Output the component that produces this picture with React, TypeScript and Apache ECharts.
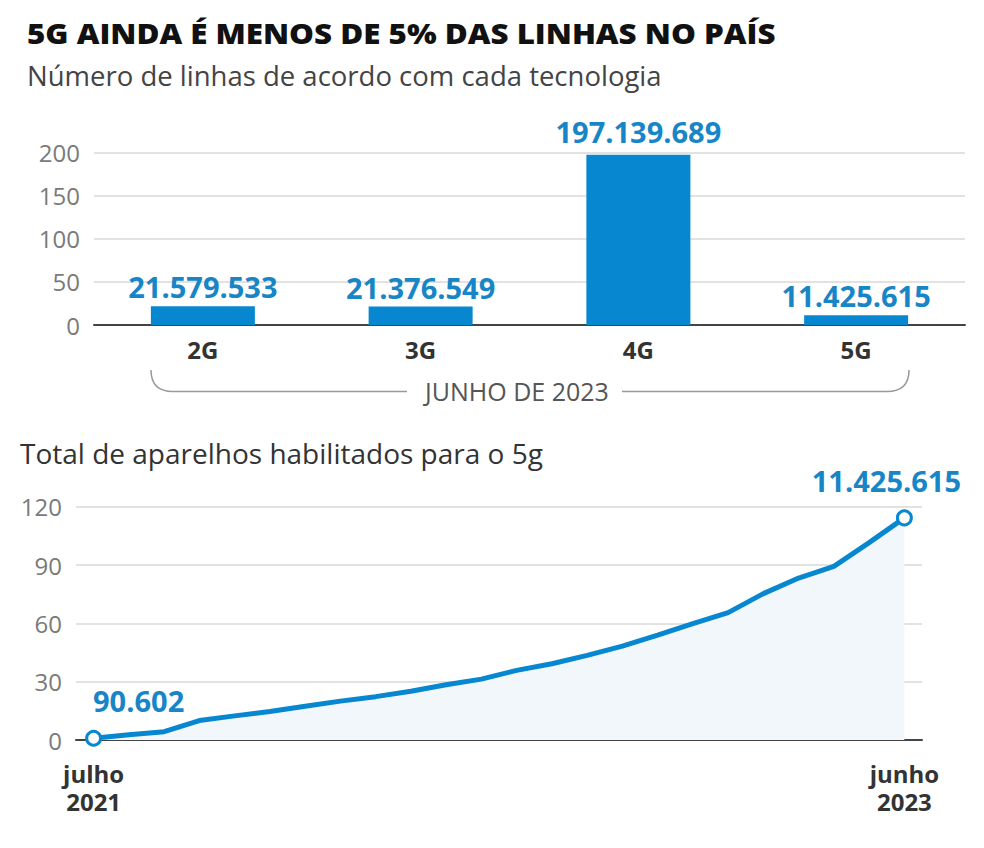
import React, { useEffect, useRef } from "react";
import * as echarts from "echarts";

// ---- Data ----
const titleText = "5G AINDA É MENOS DE 5% DAS LINHAS NO PAÍS";
const subtitleText = "Número de linhas de acordo com cada tecnologia";
const lineTitleText = "Total de aparelhos habilitados para o 5g";
const periodText = "JUNHO DE 2023";

const techCategories = ["2G", "3G", "4G", "5G"];
const linesByTech = [21579533, 21376549, 197139689, 11425615]; // number of lines
const barTicks = [0, 50, 100, 150, 200]; // millions

const months = [
  "jul 2021", "ago 2021", "set 2021", "out 2021", "nov 2021", "dez 2021",
  "jan 2022", "fev 2022", "mar 2022", "abr 2022", "mai 2022", "jun 2022",
  "jul 2022", "ago 2022", "set 2022", "out 2022", "nov 2022", "dez 2022",
  "jan 2023", "fev 2023", "mar 2023", "abr 2023", "mai 2023", "jun 2023",
];
// 5G-enabled devices, in hundreds of thousands
const devices5g = [
  0.90602, 2.7, 4.3, 10.0, 12.4, 14.7, 17.4, 20.0, 22.3, 25.1, 28.4, 31.3,
  35.8, 39.2, 43.5, 48.3, 54.0, 59.8, 65.5, 75.3, 83.3, 89.3, 101.5, 114.25615,
];
const lineTicks = [0, 30, 60, 90, 120];
const edgeLabels = ["julho\n2021", "junho\n2023"];

const BLUE = "#0787d0";
const LABEL_BLUE = "#1785c6";
const FONT = "'Open Sans', sans-serif";

function fmtBR(n: number): string {
  return Math.round(n).toString().replace(/\B(?=(\d{3})+(?!\d))/g, ".");
}

export default function App() {
  const ref = useRef<HTMLDivElement>(null);
  useEffect(() => {
    document.body.style.margin = "0";
    const chart = echarts.init(ref.current!, null, { renderer: "svg" });
    const last = devices5g.length - 1;
    const maxBar = Math.max(...linesByTech);
    const option: any = {
      animation: false,
      backgroundColor: "#ffffff",
      textStyle: { fontFamily: FONT },
      grid: [
        { left: 94, right: 19, top: 152.3, height: 172.7 },
        { left: 76, right: 62, top: 506.7, height: 233.3 },
      ],
      xAxis: [
        {
          gridIndex: 0,
          type: "category",
          data: techCategories,
          axisLine: { lineStyle: { color: "#444", width: 2 } },
          axisTick: { show: false },
          axisLabel: {
            margin: 12,
            fontSize: 24,
            fontWeight: "bold",
            color: "#333",
            fontFamily: FONT,
          },
        },
        {
          gridIndex: 1,
          type: "category",
          data: months,
          boundaryGap: true,
          axisLine: { lineStyle: { color: "#444", width: 2 } },
          axisTick: { show: false },
          axisLabel: {
            interval: (i: number) => i === 0 || i === last,
            formatter: (_v: string, i: number) =>
              i === 0 ? edgeLabels[0] : i === last ? edgeLabels[1] : "",
            margin: 19,
            fontSize: 24,
            lineHeight: 28,
            fontWeight: "bold",
            color: "#333",
            fontFamily: FONT,
          },
        },
      ],
      yAxis: [
        {
          gridIndex: 0,
          type: "value",
          min: barTicks[0],
          max: barTicks[barTicks.length - 1],
          interval: barTicks[1] - barTicks[0],
          axisLine: { show: false },
          axisTick: { show: false },
          splitLine: { lineStyle: { color: "#e2e2e2", width: 2 } },
          axisLabel: { margin: 14, fontSize: 24, color: "#7a7a7a", fontFamily: FONT },
        },
        {
          gridIndex: 1,
          type: "value",
          min: lineTicks[0],
          max: lineTicks[lineTicks.length - 1],
          interval: lineTicks[1] - lineTicks[0],
          axisLine: { show: false },
          axisTick: { show: false },
          splitLine: { lineStyle: { color: "#e2e2e2", width: 2 } },
          axisLabel: { margin: 14, fontSize: 24, color: "#7a7a7a", fontFamily: FONT },
        },
      ],
      series: [
        {
          type: "bar",
          xAxisIndex: 0,
          yAxisIndex: 0,
          data: linesByTech.map((v) => ({
            value: v / 1e6,
            label: { distance: v === maxBar ? 9 : 5 },
          })),
          barWidth: 104,
          itemStyle: { color: BLUE },
          label: {
            show: true,
            position: "top",
            formatter: (p: any) => fmtBR(linesByTech[p.dataIndex]),
            fontSize: 29,
            fontWeight: "bold",
            color: LABEL_BLUE,
            fontFamily: FONT,
          },
        },
        {
          type: "line",
          xAxisIndex: 1,
          yAxisIndex: 1,
          data: devices5g.map((v, i) => {
            const edge = i === 0 || i === last;
            return {
              value: v,
              symbol: edge ? "circle" : "none",
              symbolSize: 14,
              label: {
                show: edge,
                position: "top",
                distance: 5,
                offset: i === 0 ? [45, -10] : [-18, -9],
                formatter: () => fmtBR(v * 100000),
                fontSize: 29,
                fontWeight: "bold",
                color: LABEL_BLUE,
                fontFamily: FONT,
              },
            };
          }),
          showSymbol: true,
          lineStyle: { color: BLUE, width: 5 },
          itemStyle: { color: "#ffffff", borderColor: BLUE, borderWidth: 3 },
          areaStyle: { color: "#f2f7fc", opacity: 1 },
          z: 3,
        },
      ],
      graphic: [
        {
          type: "text",
          x: 27,
          y: 18,
          scaleX: 1.08,
          style: {
            text: titleText,
            font: `800 29px ${FONT}`,
            fill: "#111",
          },
        },
        {
          type: "text",
          left: 27,
          top: 61,
          style: { text: subtitleText, font: `400 27.5px ${FONT}`, fill: "#444" },
        },
        {
          type: "text",
          left: 20,
          top: 439,
          style: { text: lineTitleText, font: `400 28px ${FONT}`, fill: "#333" },
        },
        {
          type: "text",
          x: 517,
          y: 391,
          style: {
            text: periodText,
            font: `400 25px ${FONT}`,
            fill: "#555",
            align: "center",
            verticalAlign: "middle",
          },
        },
        {
          type: "bezierCurve",
          shape: { x1: 151, y1: 370, cpx1: 151, cpy1: 391.5, x2: 173, y2: 391.5 },
          style: { stroke: "#999", lineWidth: 1.5, fill: "none" },
        },
        {
          type: "line",
          shape: { x1: 173, y1: 391.5, x2: 407, y2: 391.5 },
          style: { stroke: "#999", lineWidth: 1.5 },
        },
        {
          type: "line",
          shape: { x1: 622, y1: 391.5, x2: 887, y2: 391.5 },
          style: { stroke: "#999", lineWidth: 1.5 },
        },
        {
          type: "bezierCurve",
          shape: { x1: 887, y1: 391.5, cpx1: 909, cpy1: 391.5, x2: 909, y2: 370 },
          style: { stroke: "#999", lineWidth: 1.5, fill: "none" },
        },
      ],
    };
    chart.setOption(option);
    return () => chart.dispose();
  }, []);
  return <div ref={ref} style={{ width: 984, height: 848 }} />;
}
